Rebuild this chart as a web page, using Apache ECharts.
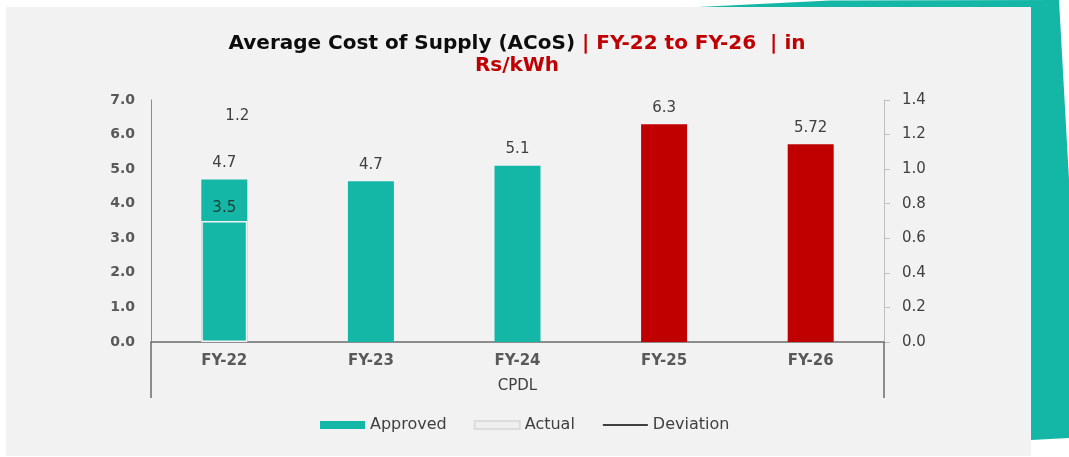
<!DOCTYPE html>
<html>
<head>
<meta charset="utf-8">
<script src="https://cdn.jsdelivr.net/npm/echarts@6/dist/echarts.min.js"></script>
<style>
  html, body { margin: 0; padding: 0; background: #ffffff; }
  #chart { width: 1069px; height: 457px; }
</style>
</head>
<body>
<div id="chart"></div>
<script>
// Categories and values
const categories = ['FY-22', 'FY-23', 'FY-24', 'FY-25', 'FY-26'];
const groupLabels = ['CPDL'];
const approved = [4.7, 4.65, 5.1, 6.3, 5.72];
const approvedLabels = ['4.7', '4.7', '5.1', '6.3', '5.72'];
const actual = [3.5, null, null, null, null];
const deviation = [1.2, null, null, null, null];

const teal = '#14b7a6';
const red = '#c00000';
const font = 'DejaVu Sans';

const el = document.getElementById('chart');
const chart = echarts.init(el);

const option = {
  animation: false,
  textStyle: { fontFamily: font },
  graphic: [
    {
      type: 'rect', z: -10, silent: true,
      shape: { x: 6, y: 7, width: 1025, height: 449 },
      style: { fill: '#f2f2f2' }
    },
    {
      type: 'polygon', z: -10, silent: true,
      shape: { points: [[698, 7], [830, 0.5], [1059, 0], [1069, 180], [1069, 438], [1031, 440], [1031, 7]] },
      style: { fill: teal }
    },
    {
      type: 'text', silent: true,
      x: 517, y: 33,
      style: {
        text: '{b|Average Cost of Supply (ACoS)}{r| | FY-22 to FY-26  | in}\n{r|Rs/kWh}',
        align: 'center',
        verticalAlign: 'top',
        rich: {
          b: { fontFamily: font, fontWeight: 'bold', fontSize: 20, lineHeight: 22, fill: '#0d0d0d' },
          r: { fontFamily: font, fontWeight: 'bold', fontSize: 20, lineHeight: 22, fill: red }
        }
      }
    }
  ],
  legend: {
    left: 315,
    top: 412,
    itemWidth: 45,
    itemHeight: 8,
    itemGap: 27,
    textStyle: { fontFamily: font, fontSize: 16, color: '#404040' },
    data: [
      { name: 'Approved', icon: 'rect' },
      { name: 'Actual', icon: 'rect' },
      { name: 'Deviation' }
    ]
  },
  grid: { left: 151, right: 185, top: 100, bottom: 115 },
  xAxis: [
    {
      type: 'category',
      data: categories,
      axisLine: { lineStyle: { color: '#6b6b6b', width: 1.5 } },
      axisTick: { show: false },
      axisLabel: {
        margin: 12,
        fontFamily: font, fontSize: 15, fontWeight: 'bold', color: '#595959'
      }
    },
    {
      type: 'category',
      data: groupLabels,
      position: 'bottom',
      axisLine: { show: false },
      axisTick: { show: true, length: 56, lineStyle: { color: '#6b6b6b', width: 1.5 } },
      axisLabel: {
        margin: 37,
        fontFamily: font, fontSize: 15, color: '#404040'
      }
    }
  ],
  yAxis: [
    {
      type: 'value',
      min: 0, max: 7, interval: 1,
      axisLine: { show: true, lineStyle: { color: '#8c8c8c' } },
      axisTick: { show: false },
      splitLine: { show: false },
      axisLabel: {
        margin: 16,
        fontFamily: font, fontSize: 14, fontWeight: 'bold', color: '#595959',
        formatter: v => v.toFixed(1)
      }
    },
    {
      type: 'value',
      min: 0, max: 1.4, interval: 0.2,
      position: 'right',
      axisLine: { show: true, lineStyle: { color: '#bfbfbf' } },
      axisTick: { show: true, length: 6, lineStyle: { color: '#bfbfbf' } },
      splitLine: { show: false },
      axisLabel: {
        margin: 18,
        fontFamily: font, fontSize: 15, color: '#404040',
        formatter: v => v.toFixed(1)
      }
    }
  ],
  series: [
    {
      name: 'Approved',
      type: 'bar',
      barWidth: 46,
      barGap: '-100%',
      itemStyle: { color: teal },
      data: approved.map((v, i) => i >= 3 ? { value: v, itemStyle: { color: red } } : v),
      label: {
        show: true,
        position: 'top',
        distance: 9,
        fontFamily: font, fontSize: 15, color: '#404040',
        formatter: p => approvedLabels[p.dataIndex]
      }
    },
    {
      name: 'Actual',
      type: 'bar',
      barWidth: 46,
      barGap: '-100%',
      itemStyle: { color: '#efefef', borderColor: '#dcdcdc', borderWidth: 1 },
      data: actual.map(v => v === null ? null : { value: v, itemStyle: { color: teal, borderColor: '#f2f2f2', borderWidth: 1.5 } }),
      label: {
        show: true,
        position: 'top',
        distance: 5,
        fontFamily: font, fontSize: 15, color: '#1f3b38'
      }
    },
    {
      name: 'Deviation',
      type: 'line',
      yAxisIndex: 1,
      symbol: 'circle',
      symbolSize: 1,
      itemStyle: { color: 'rgba(0,0,0,0)' },
      lineStyle: { color: '#404040', width: 2 },
      data: deviation,
      label: {
        show: true,
        position: 'top',
        distance: 10,
        offset: [13, 0],
        fontFamily: font, fontSize: 15, color: '#404040'
      }
    }
  ]
};

chart.setOption(option);
</script>
</body>
</html>
